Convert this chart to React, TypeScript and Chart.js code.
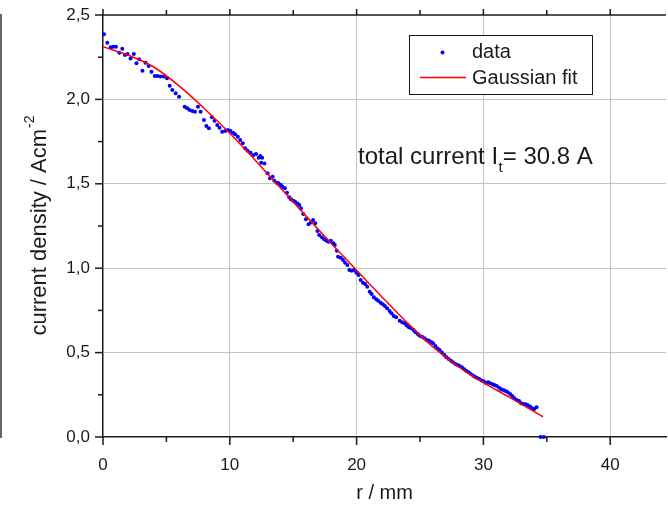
import React, { useEffect, useRef } from "react";
import { Chart, registerables } from "chart.js";

Chart.register(...registerables);

// measured current density profile
const dataR = [0.08,0.34,0.6,0.81,1.02,1.28,1.52,1.73,1.94,2.17,2.43,2.64,2.85,3.11,3.35,3.6,3.82,4.08,4.3,4.53,4.79,5.05,5.26,5.47,5.73,6.0,6.44,6.65,6.83,7.04,7.25,7.49,7.7,7.96,8.15,8.35,8.59,8.8,9.01,9.19,9.4,9.64,9.84,10.03,10.24,10.42,10.63,10.82,11.02,11.21,11.41,11.63,11.86,12.07,12.28,12.4,12.47,12.55,12.73,12.98,13.17,13.38,13.51,13.69,13.85,14.04,14.16,14.35,14.51,14.69,14.82,15.0,15.15,15.34,15.48,15.61,15.79,16.0,16.21,16.39,16.57,16.73,16.91,17.05,17.26,17.44,17.62,17.78,17.97,18.17,18.28,18.44,18.54,18.75,18.93,19.09,19.27,19.43,19.62,19.79,19.98,20.16,20.32,20.5,20.68,20.84,21.03,21.18,21.36,21.55,21.7,21.89,22.07,22.23,22.4,22.6,22.75,22.93,23.12,23.4,23.59,23.78,23.95,24.12,24.3,24.49,24.64,24.82,24.97,25.16,25.35,25.51,25.69,25.87,26.03,26.21,26.39,26.55,26.73,26.92,27.08,27.26,27.44,27.6,27.79,27.97,28.12,28.3,28.49,28.65,28.83,29.01,29.2,29.35,29.5,29.67,29.85,30.01,30.18,30.37,30.53,30.71,30.86,31.05,31.24,31.39,31.57,31.76,31.92,32.1,32.28,32.44,32.62,32.81,32.97,33.14,33.33,33.48,33.67,33.85,34.01,34.19,34.51,34.77];
const dataJ = [2.386,2.336,2.309,2.312,2.312,2.277,2.3,2.263,2.269,2.243,2.269,2.214,2.238,2.17,2.217,2.198,2.164,2.139,2.139,2.135,2.135,2.125,2.081,2.056,2.036,2.016,1.957,1.947,1.937,1.931,1.927,1.957,1.927,1.878,1.842,1.829,1.894,1.874,1.848,1.832,1.809,1.813,1.819,1.815,1.803,1.793,1.779,1.759,1.74,1.71,1.696,1.684,1.671,1.677,1.655,1.665,1.625,1.655,1.621,1.562,1.533,1.542,1.518,1.506,1.503,1.493,1.483,1.473,1.447,1.42,1.408,1.4,1.394,1.384,1.374,1.355,1.321,1.29,1.26,1.27,1.286,1.266,1.22,1.197,1.183,1.171,1.163,1.157,1.163,1.148,1.137,1.104,1.068,1.062,1.049,1.033,1.019,0.989,0.985,0.989,0.973,0.96,0.93,0.914,0.906,0.89,0.861,0.847,0.828,0.816,0.807,0.796,0.786,0.776,0.762,0.746,0.733,0.717,0.709,0.689,0.68,0.674,0.66,0.65,0.644,0.634,0.62,0.61,0.6,0.594,0.585,0.575,0.571,0.563,0.555,0.539,0.525,0.515,0.5,0.486,0.472,0.462,0.452,0.443,0.432,0.427,0.421,0.413,0.401,0.391,0.383,0.373,0.363,0.355,0.349,0.344,0.334,0.33,0.322,0.324,0.318,0.312,0.308,0.302,0.292,0.283,0.278,0.273,0.265,0.255,0.243,0.229,0.219,0.213,0.2,0.195,0.194,0.19,0.18,0.17,0.166,0.176,0,0];

// fitted curve
const fitR = [0, 2, 4, 6, 8, 10, 12, 14, 16, 18, 20, 22, 24, 26, 28, 30, 32, 34, 34.7];
const fitJ = [2.312, 2.262, 2.192, 2.08, 1.945, 1.8, 1.64, 1.475, 1.31, 1.147, 0.988, 0.83, 0.676, 0.535, 0.418, 0.322, 0.238, 0.15, 0.12];

const xMin = 0;
const xMax = 44.4;
const yMin = 0;
const yMax = 2.5;

const xTitle = "r / mm";
const yTitleMain = "current density / Acm";
const yTitleSup = "-2";
const legendLabels = ["data", "Gaussian fit"];
const noteMain = "total current I";
const noteSub = "t";
const noteTail = "= 30.8 A";

const FONT = "'Liberation Sans', Arial, sans-serif";
const INK = "#1a1a1a";
const GRID = "#c4c4c4";

const overlay = {
  id: "overlay",
  afterDraw(chart: any) {
    const ctx = chart.ctx as CanvasRenderingContext2D;
    const { left, right, top, bottom } = chart.chartArea;
    const xs = chart.scales.x;
    const ys = chart.scales.y;
    ctx.save();
    ctx.strokeStyle = INK;
    ctx.lineWidth = 1.5;
    // top frame line
    ctx.beginPath();
    ctx.moveTo(left - 1, top);
    ctx.lineTo(right, top);
    ctx.stroke();
    // x ticks (bottom outward, top outward)
    xs.ticks.forEach((t: any) => {
      const px = xs.getPixelForValue(t.value);
      const major = Math.abs(t.value % 10) < 1e-6;
      const len = major ? 8 : 5;
      ctx.beginPath();
      ctx.moveTo(px, bottom);
      ctx.lineTo(px, bottom + len);
      ctx.moveTo(px, top);
      ctx.lineTo(px, top - (major ? 6 : 5));
      ctx.stroke();
    });
    ys.ticks.forEach((t: any) => {
      const py = ys.getPixelForValue(t.value);
      const major = Math.abs(t.value * 2 - Math.round(t.value * 2)) < 1e-6;
      const len = major ? 8 : 5;
      ctx.beginPath();
      ctx.moveTo(left, py);
      ctx.lineTo(left - len, py);
      ctx.stroke();
    });
    // far-left frame line
    ctx.strokeStyle = "#333";
    ctx.lineWidth = 1.5;
    ctx.beginPath();
    ctx.moveTo(1, top - 1);
    ctx.lineTo(1, bottom + 1);
    ctx.stroke();

    // y title
    ctx.fillStyle = INK;
    ctx.save();
    ctx.translate(40, (top + bottom) / 2);
    ctx.rotate(-Math.PI / 2);
    ctx.font = `22px ${FONT}`;
    const w1 = ctx.measureText(yTitleMain).width;
    ctx.font = `14px ${FONT}`;
    const w2 = ctx.measureText(yTitleSup).width;
    const sx = -(w1 + w2) / 2;
    ctx.textBaseline = "middle";
    ctx.textAlign = "left";
    ctx.font = `22px ${FONT}`;
    ctx.fillText(yTitleMain, sx, 0);
    ctx.font = `14px ${FONT}`;
    ctx.fillText(yTitleSup, sx + w1 + 1, -10);
    ctx.restore();

    // legend box
    ctx.fillStyle = "#ffffff";
    ctx.fillRect(409.5, 35.5, 183, 59);
    ctx.strokeStyle = INK;
    ctx.lineWidth = 1;
    ctx.strokeRect(409.5, 35.5, 183, 59);
    ctx.fillStyle = "#0000ff";
    ctx.beginPath();
    ctx.arc(442.5, 52.5, 2, 0, Math.PI * 2);
    ctx.fill();
    ctx.strokeStyle = "#ff0000";
    ctx.lineWidth = 1.5;
    ctx.beginPath();
    ctx.moveTo(420, 77.5);
    ctx.lineTo(466, 77.5);
    ctx.stroke();
    ctx.fillStyle = INK;
    ctx.font = `20px ${FONT}`;
    ctx.textAlign = "left";
    ctx.textBaseline = "middle";
    ctx.fillText(legendLabels[0], 472, 52.5);
    ctx.fillText(legendLabels[1], 472, 78);

    // annotation
    ctx.textBaseline = "alphabetic";
    ctx.font = `24px ${FONT}`;
    const a1 = ctx.measureText(noteMain).width;
    ctx.fillText(noteMain, 358, 164);
    ctx.font = `15px ${FONT}`;
    const a2 = ctx.measureText(noteSub).width;
    ctx.fillText(noteSub, 358 + a1 + 0.5, 172);
    ctx.font = `24px ${FONT}`;
    ctx.fillText(noteTail, 358 + a1 + a2 + 0.5, 164);
    ctx.restore();
  },
};

export default function App() {
  const ref = useRef<HTMLCanvasElement | null>(null);
  useEffect(() => {
    if (!ref.current) return;
    const pts = dataR.map((r, i) => ({ x: r, y: dataJ[i] }));
    const fit = fitR.map((r, i) => ({ x: r, y: fitJ[i] }));
    const chart = new Chart(ref.current, {
      type: "scatter",
      data: {
        datasets: [
          {
            label: legendLabels[0],
            data: pts,
            showLine: false,
            pointRadius: 2,
            pointBackgroundColor: "#0000ff",
            pointBorderWidth: 0,
            pointHoverRadius: 2,
            order: 2,
            clip: false,
          } as any,
          {
            label: legendLabels[1],
            data: fit,
            showLine: true,
            borderColor: "#ff0000",
            borderWidth: 1.5,
            pointRadius: 0,
            cubicInterpolationMode: "monotone",
            fill: false,
            order: 1,
          } as any,
        ],
      },
      options: {
        animation: false,
        responsive: false,
        events: [],
        layout: { padding: { top: 15, left: 0, right: 0, bottom: 0 } },
        plugins: { legend: { display: false }, tooltip: { enabled: false } },
        scales: {
          x: {
            type: "linear",
            min: xMin,
            max: xMax,
            afterFit: (s: any) => {
              s.height = 72;
              s.paddingLeft = 0;
              s.paddingRight = 0;
            },
            ticks: {
              stepSize: 5,
              includeBounds: false,
              autoSkip: false,
              maxRotation: 0,
              padding: 18,
              color: INK,
              font: { family: FONT, size: 17 },
              callback: (v: any) => (Math.abs(v % 10) < 1e-6 ? String(v) : ""),
            },
            grid: {
              drawTicks: false,
              lineWidth: 1,
              color: (c: any) =>
                c.tick && Math.abs(c.tick.value % 10) < 1e-6 && c.tick.value > 0 ? GRID : "rgba(0,0,0,0)",
            },
            border: { display: true, color: INK, width: 1.5 },
            title: {
              display: true,
              text: xTitle,
              color: INK,
              font: { family: FONT, size: 20 },
            },
          },
          y: {
            type: "linear",
            min: yMin,
            max: yMax,
            afterFit: (s: any) => {
              s.width = 103;
              s.paddingTop = 0;
              s.paddingBottom = 0;
            },
            ticks: {
              stepSize: 0.25,
              includeBounds: false,
              autoSkip: false,
              padding: 13,
              color: INK,
              font: { family: FONT, size: 17 },
              callback: (v: any) => {
                const n = Number(v);
                return Math.abs(n * 2 - Math.round(n * 2)) < 1e-6 ? n.toFixed(1).replace(".", ",") : "";
              },
            },
            grid: {
              drawTicks: false,
              lineWidth: 1,
              color: (c: any) => {
                const n = c.tick ? c.tick.value : 0;
                return Math.abs(n * 2 - Math.round(n * 2)) < 1e-6 && n > 0 && n < 2.5 ? GRID : "rgba(0,0,0,0)";
              },
            },
            border: { display: true, color: INK, width: 1.5 },
            title: { display: false },
          },
        },
      },
      plugins: [overlay],
    } as any);
    return () => chart.destroy();
  }, []);
  return (
    <div style={{ position: "absolute", left: 0, top: 0, width: 668, height: 509, background: "#fff" }}>
      <canvas ref={ref} width={668} height={509} style={{ display: "block" }} />
    </div>
  );
}
